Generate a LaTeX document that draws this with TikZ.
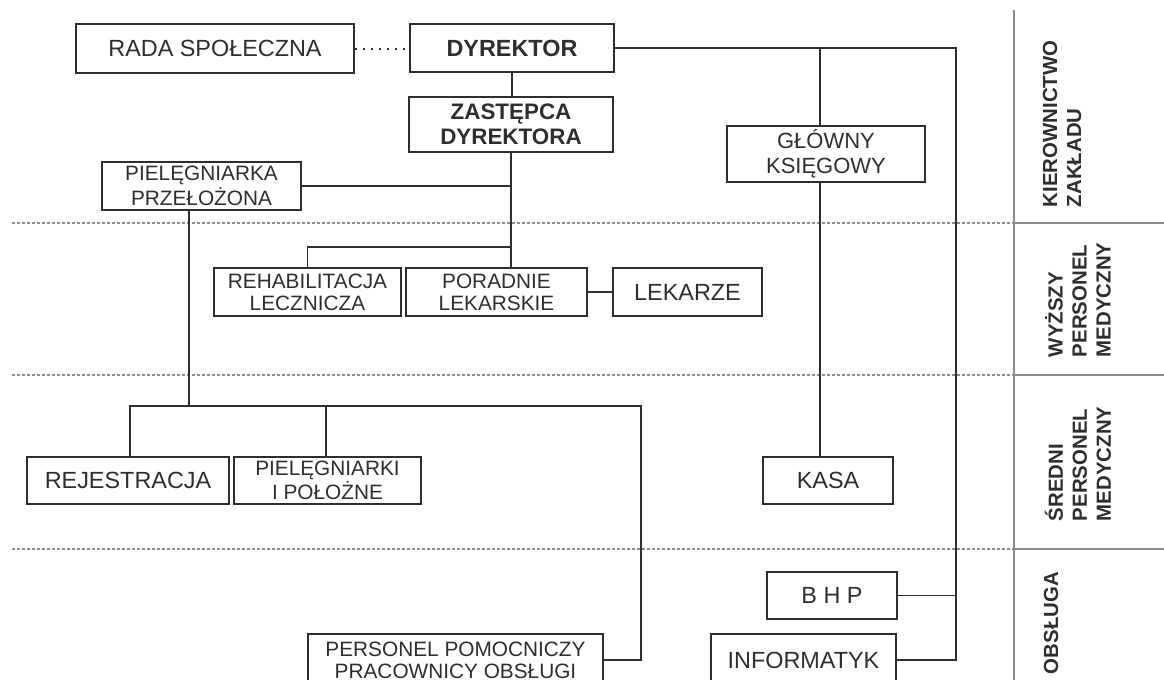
\documentclass[tikz,border=0pt]{standalone}
\usepackage{fontspec}
\setmainfont{Liberation Sans}
\definecolor{lincol}{HTML}{2E2E2E}
\definecolor{sepcol}{HTML}{8C8C8C}

\begin{document}
\begin{tikzpicture}[x=0.5pt,y=-0.5pt,line width=0.9pt,color=lincol,
	box/.style={draw,line width=0.95pt,inner sep=0pt,align=center,
		font=\fontsize{11.7}{13}\selectfont},
	mid/.style={font=\fontsize{10.4}{11}\selectfont},
	sect/.style={sepcol,line width=0.55pt},
	level/.style={sect,dash pattern=on 1.5pt off 1pt},
	side/.style={rotate=90,anchor=west,inner sep=0pt,align=left,
		font=\fontsize{10.2}{12}\selectfont\bfseries}]

\useasboundingbox (0,0) rectangle (1164,680);
\clip (0,0) rectangle (1164,680);

% poziomy
\foreach \y in {223,375,549} {
	\draw[level] (12,\y) -- (1014,\y);
	\draw[sect] (1014,\y) -- (1164,\y);
}
\draw[sect] (1014,10) -- (1014,680);

\node[side] (kier) at (1062,208) {KIEROWNICTWO\\ZAKŁADU};
\node[side] (wyz) at (1078,358) {WYŻSZY\\PERSONEL\\MEDYCZNY};
\node[side] (sred) at (1078,522) {ŚREDNI\\PERSONEL\\MEDYCZNY};
\node[side] (obs) at (1051,675) {OBSŁUGA};

% kierownictwo
\node[box,minimum width=139pt,minimum height=24.5pt] (rada) at (215,48.5) {RADA SPOŁECZNA};
\node[box,minimum width=102pt,minimum height=24pt,font=\fontsize{11.7}{13}\selectfont\bfseries] (dyr) at (512,48) {DYREKTOR};
\node[box,minimum width=102pt,minimum height=27.5pt,font=\fontsize{11.2}{12.5}\selectfont\bfseries] (zast) at (511,124.5) {ZASTĘPCA\\DYREKTORA};
\node[box,mid,minimum width=99.5pt,minimum height=24pt,font=\fontsize{10.4}{10.7}\selectfont] (piel) at (201.5,186) {PIELĘGNIARKA\\PRZEŁOŻONA};
\node[box,minimum width=99pt,minimum height=28pt,font=\fontsize{11}{12.5}\selectfont] (glow) at (826,154) {GŁÓWNY\\KSIĘGOWY};

% wyzszy personel
\node[box,mid,minimum width=93.5pt,minimum height=24pt] (rehab) at (307.5,292) {REHABILITACJA\\LECZNICZA};
\node[box,mid,minimum width=90.5pt,minimum height=24pt] (por) at (496.5,292) {PORADNIE\\LEKARSKIE};
\node[box,minimum width=74.5pt,minimum height=24pt] (lek) at (687.5,292) {LEKARZE};

% sredni personel
\node[box,minimum width=101pt,minimum height=23.5pt] (rej) at (128,480.5) {REJESTRACJA};
\node[box,mid,minimum width=93.5pt,minimum height=23.5pt] (pielp) at (327.5,480.5) {PIELĘGNIARKI\\I POŁOŻNE};
\node[box,minimum width=65pt,minimum height=23.5pt] (kasa) at (828,480.5) {KASA};

% obsluga
\node[box,minimum width=65pt,minimum height=23.5pt] (bhp) at (832,595.5) {B H P};
\node[box,mid,minimum width=147.5pt,minimum height=26pt] (pers) at (455.5,660) {PERSONEL POMOCNICZY\\PRACOWNICY OBSŁUGI};
\node[box,minimum width=92.5pt,minimum height=26pt] (inf) at (803.5,660) {INFORMATYK};

\coordinate (z1) at (511,247);
\coordinate (r1) at (956,48);
\coordinate (g1) at (820,48);
\coordinate (p0) at (130,406);
\coordinate (p1) at (189,406);
\coordinate (p2) at (641,406);
\coordinate (p3) at (326,406);

\draw[dash pattern=on 1pt off 3pt,line width=1pt] (rada.east) -- (rada.east -| dyr.west);
\draw (dyr.south) -- (dyr.south |- zast.north);
\draw (zast.south) -- (zast.south |- por.north);
\draw (piel.east) -- (piel.east -| zast.south);
\draw (z1) -| (rehab.north);
\draw (por) -- (lek);

\draw (dyr.east) -- (r1) |- (inf.east);
\draw (bhp.east) -- (bhp.east -| r1);
\draw (g1) -- (g1 |- glow.north);
\draw (g1 |- glow.south) -- (g1 |- kasa.north);

\draw (p1 |- piel.south) -- (p1);
\draw (p0 |- rej.north) -- (p0) -- (p2) |- (pers.east);
\draw (p3) -- (p3 |- pielp.north);

\end{tikzpicture}
\end{document}
